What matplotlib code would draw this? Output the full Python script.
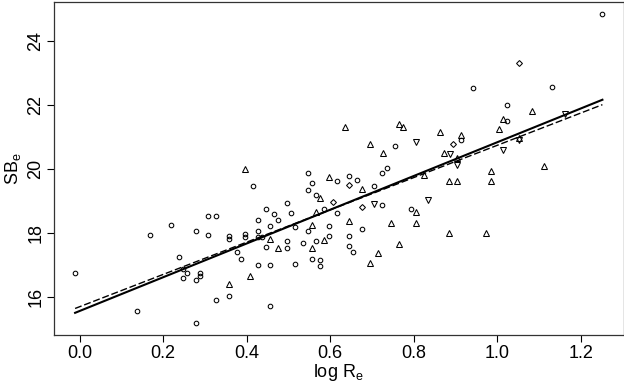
import matplotlib
matplotlib.use("Agg")
import matplotlib.pyplot as plt
import numpy as np

plt.rcParams['font.family'] = ['Liberation Sans', 'DejaVu Sans']
plt.rcParams['mathtext.fontset'] = 'custom'
plt.rcParams['mathtext.rm'] = 'Liberation Sans'
plt.rcParams['mathtext.it'] = 'Liberation Sans:italic'

# open circles
circle_x = [-0.011, 0.138, 0.278, 0.168, 0.218, 0.307, 0.327, 0.278, 0.307, 0.357,
            0.357, 0.397, 0.397, 0.427, 0.427, 0.427, 0.437, 0.238, 0.377, 0.387,
            0.427, 0.248, 0.258, 0.248, 0.288, 0.288, 0.278, 0.357, 0.327, 0.416,
            0.457, 0.546, 0.645, 0.616, 0.665, 0.556, 0.546, 0.566, 0.705, 0.496,
            0.446, 0.586, 0.725, 0.794, 0.506, 0.466, 0.616, 0.476, 0.457, 0.516,
            0.596, 0.546, 0.675, 0.596, 0.645, 0.566, 0.496, 0.536, 0.446, 0.496,
            0.645, 0.655, 0.556, 0.575, 0.457, 0.516, 0.575, 0.735, 0.725, 0.755,
            0.943, 1.132, 1.024, 1.024, 0.914, 1.252]
circle_y = [16.74, 15.54, 15.19, 17.93, 18.24, 18.52, 18.52, 18.06, 17.93, 17.90,
            17.82, 17.95, 17.87, 18.41, 18.06, 17.88, 17.88, 17.26, 17.39, 17.17,
            17.00, 16.86, 16.74, 16.60, 16.73, 16.64, 16.53, 16.04, 15.89, 19.46,
            15.71, 19.88, 19.77, 19.63, 19.67, 19.55, 19.33, 19.20, 19.46, 18.92,
            18.74, 18.76, 18.87, 18.76, 18.61, 18.59, 18.63, 18.41, 18.21, 18.19,
            18.22, 18.06, 18.13, 17.89, 17.91, 17.74, 17.74, 17.67, 17.57, 17.54,
            17.59, 17.41, 17.19, 17.15, 16.99, 17.02, 16.95, 20.02, 19.87, 20.73,
            22.52, 22.58, 22.01, 21.50, 20.91, 24.84]

# triangles (point up)
tri_up_x = [0.397, 0.407, 0.357, 0.635, 0.765, 0.775, 0.863, 0.695, 0.726, 0.596,
            0.675, 0.575, 0.825, 0.805, 0.566, 0.556, 0.645, 0.745, 0.805, 0.457,
            0.585, 0.476, 0.556, 0.765, 0.715, 0.695, 1.083, 1.013, 1.004, 0.914,
            0.873, 0.904, 1.053, 1.112, 0.984, 0.885, 0.904, 0.984, 0.885, 0.974]
tri_up_y = [20.01, 16.64, 16.39, 21.31, 21.41, 21.30, 21.16, 20.79, 20.51, 19.75,
            19.36, 19.08, 19.80, 18.66, 18.66, 18.24, 18.36, 18.31, 18.31, 17.81,
            17.78, 17.54, 17.54, 17.64, 17.38, 17.05, 21.80, 21.55, 21.26, 21.07,
            20.51, 20.35, 20.98, 20.09, 19.93, 19.61, 19.61, 19.62, 18.00, 18.00]

# triangles (point down)
tri_down_x = [0.805, 0.705, 0.834, 0.886, 0.903, 1.014, 1.053, 1.162]
tri_down_y = [20.84, 18.91, 19.04, 20.46, 20.14, 20.59, 20.92, 21.72]

# diamonds
diamond_x = [0.645, 0.606, 0.675, 0.894, 1.053]
diamond_y = [19.50, 18.98, 18.80, 20.79, 23.33]

# fitted lines: (intercept, slope)
fit_solid = (15.556, 5.28)
fit_dashed = (15.69, 5.05)

fig = plt.figure(figsize=(6.24, 3.82), dpi=100)
ax = fig.add_axes([54 / 624, 47 / 382, 569.5 / 624, 333 / 382])

mk = dict(linestyle='none', markerfacecolor='none', markeredgecolor='black',
          markeredgewidth=0.75)
ax.plot(circle_x, circle_y, marker='o', markersize=3.3, **mk)
ax.plot(tri_up_x, tri_up_y, marker='^', markersize=4.0, **mk)
ax.plot(tri_down_x, tri_down_y, marker='v', markersize=4.0, **mk)
ax.plot(diamond_x, diamond_y, marker='D', markersize=3.0, **mk)

all_x = np.array(circle_x + tri_up_x + tri_down_x + diamond_x)
all_y = np.array(circle_y + tri_up_y + tri_down_y + diamond_y)
xx = np.array([all_x.min(), all_x.max()])
ax.plot(xx, fit_solid[0] + fit_solid[1] * xx, color='black', lw=1.5)
ax.plot(xx, fit_dashed[0] + fit_dashed[1] * xx, color='black', lw=1.0,
        linestyle=(0, (5, 2)))

# R-style 4% padding
xpad = 0.04 * (all_x.max() - all_x.min())
ypad = 0.04 * (all_y.max() - all_y.min())
ax.set_xlim(all_x.min() - xpad, all_x.max() + xpad)
ax.set_ylim(all_y.min() - ypad, all_y.max() + ypad)

ax.set_xticks([0.0, 0.2, 0.4, 0.6, 0.8, 1.0, 1.2])
ax.set_xticklabels(['0.0', '0.2', '0.4', '0.6', '0.8', '1.0', '1.2'])
ax.set_yticks([16, 18, 20, 22, 24])
ax.tick_params(direction='out', length=5, width=0.8, labelsize=13, pad=2)
for lab in ax.get_yticklabels():
    lab.set_rotation(90)
    lab.set_va('center')

for s in ax.spines.values():
    s.set_linewidth(0.9)
    s.set_color('#333333')

ax.set_xlabel(r'log R$_\mathrm{e}$', fontsize=13, labelpad=0)
ax.set_ylabel(r'SB$_\mathrm{e}$', fontsize=13, labelpad=3)

fig.savefig('out.png', dpi=100)
